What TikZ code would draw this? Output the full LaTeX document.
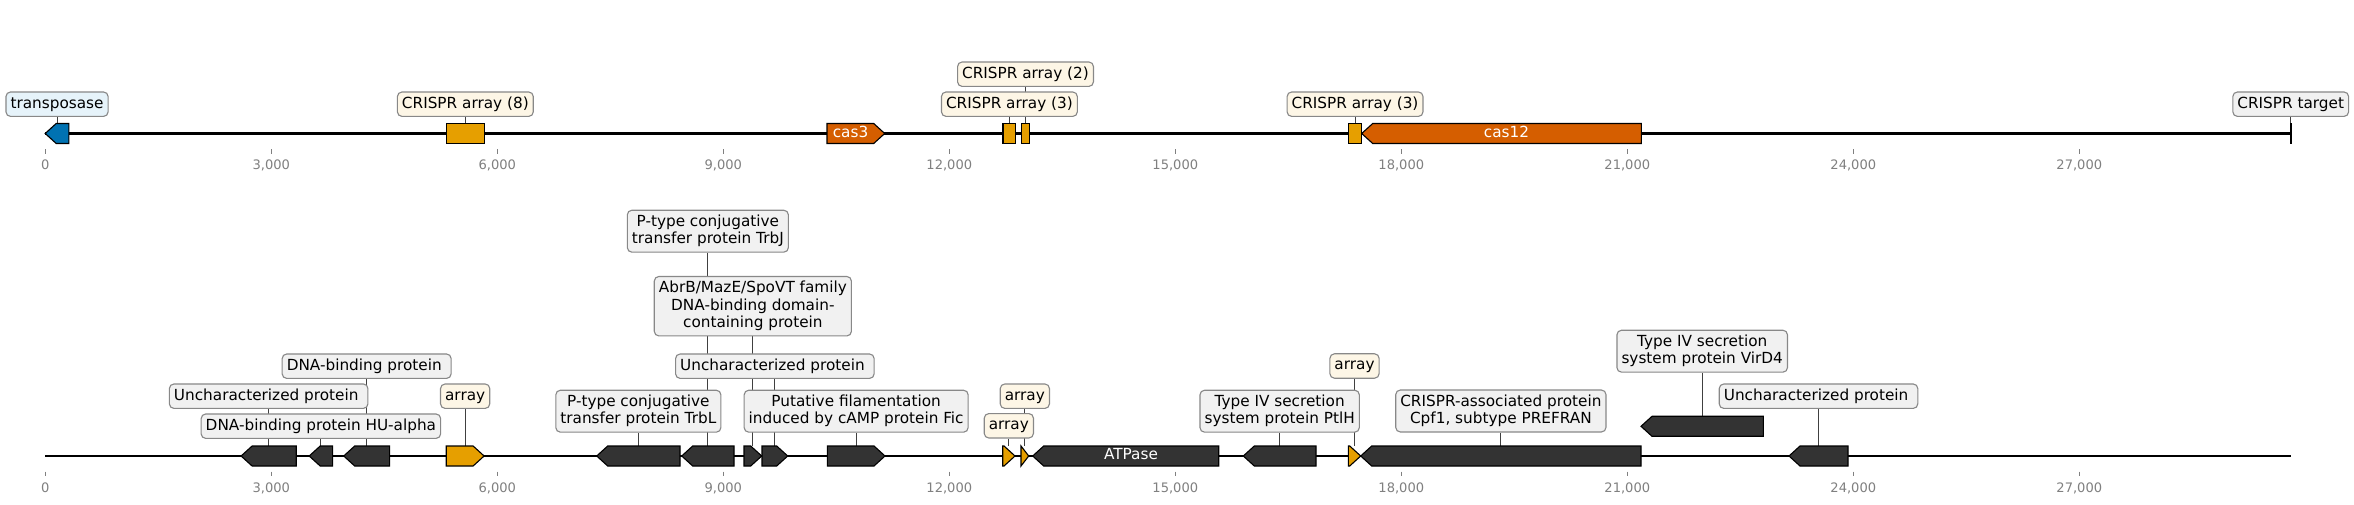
\documentclass[tikz,border=0pt]{standalone}
\usepackage{fontspec}
\setmainfont{DejaVu Sans}
\definecolor{geneDark}{HTML}{333333}
\definecolor{geneOrange}{HTML}{E69F00}
\definecolor{geneRed}{HTML}{D55E00}
\definecolor{geneBlue}{HTML}{0072B2}
\definecolor{boxGray}{HTML}{F1F1F1}
\definecolor{boxCream}{HTML}{FDF6E6}
\definecolor{boxBlue}{HTML}{E6F3FA}
\definecolor{boxEdge}{HTML}{888888}
\definecolor{tickGray}{HTML}{808080}
\definecolor{leaderGray}{HTML}{404040}
\pgfdeclarelayer{back}
\pgfdeclarelayer{bg}
\pgfsetlayers{back,bg,main}
\newcommand\lblfont{\fontsize{11}{12.6}\selectfont}
\newcommand\ticfont{\fontsize{9.4}{11}\selectfont}
\newcommand\lstr{\rule[-0.24em]{0pt}{1em}}
\tikzset{
  lbl/.style={draw=boxEdge, line width=0.8pt, rounded corners=3.3pt, inner sep=3.3pt,
              font=\lblfont, align=center, fill=boxGray},
  arrbox/.style={lbl, fill=boxCream},
  tpbox/.style={lbl, fill=boxBlue},
  genepath/.style={draw=black, line width=0.8pt, line join=miter},
  genetext/.style={text=white, font=\lblfont, inner sep=0pt},
  leaderline/.style={draw=leaderGray, line width=0.6pt},
  trackline/.style={draw=black, line width=1.5pt},
  ticmark/.style={draw=tickGray, line width=0.8pt},
  ticlab/.style={text=tickGray, font=\ticfont, anchor=base, inner sep=0pt}
}
% right-pointing gene: name, x1, x2, yc, colour
\newcommand\geneR[5]{%
  \pgfmathsetmacro\hl{min(11,#3-#2)}%
  \path[genepath, fill=#5] (#2,#4-10) -- (#3-\hl,#4-10) -- (#3,#4) -- (#3-\hl,#4+10) -- (#2,#4+10) -- cycle;
  \coordinate (#1) at ({(#2+#3)/2},#4-10);
  \coordinate (#1-c) at ({(#2+#3)/2},#4);
}
% left-pointing gene
\newcommand\geneL[5]{%
  \pgfmathsetmacro\hl{min(11,#3-#2)}%
  \path[genepath, fill=#5] (#2,#4) -- (#2+\hl,#4-10) -- (#3,#4-10) -- (#3,#4+10) -- (#2+\hl,#4+10) -- cycle;
  \coordinate (#1) at ({(#2+#3)/2},#4-10);
  \coordinate (#1-c) at ({(#2+#3)/2},#4);
}
% strandless block
\newcommand\geneB[5]{%
  \path[genepath, fill=#5] (#2,#4-10) rectangle (#3,#4+10);
  \coordinate (#1) at ({(#2+#3)/2},#4-10);
}
\begin{document}
\begin{tikzpicture}[x=0.72pt, y=-0.72pt]
\useasboundingbox (0,0) rectangle (2354,505);
\begin{pgfonlayer}{back}
  \fill[white] (0,0) rectangle (2354,505);
\end{pgfonlayer}

% ---------------- top track ----------------
\draw[trackline] (45.3,133.5) -- (2290.7,133.5);
\coordinate (tgtop) at (2290.7,123.5);
\coordinate (tgbot) at (2290.7,144);
\draw[trackline] (tgtop) -- (tgbot);

\geneL{t-tp}{45.2}{68.9}{133.5}{geneBlue}
\geneB{t-a8}{446.2}{484.5}{133.5}{geneOrange}
\geneR{t-cas3}{827}{884.7}{133.5}{geneRed}
\node[genetext] (n-cas3) at (850.5,133.5) {\lstr cas3};
\geneB{t-a3a}{1003}{1015.8}{133.5}{geneOrange}
\geneB{t-a2}{1021.4}{1029.6}{133.5}{geneOrange}
\geneB{t-a3b}{1348.4}{1361.7}{133.5}{geneOrange}
\geneL{t-cas12}{1361.7}{1641.4}{133.5}{geneRed}
\node[genetext] (n-cas12) at (1506.5,133.5) {\lstr cas12};

\node[tpbox] (l-tp) at (57.05,104.2) {\lstr transposase};
\node[arrbox] (l-a8) at (465.35,104.2) {\lstr CRISPR array (8)};
\node[arrbox] (l-a3a) at (1009.4,104.2) {\lstr CRISPR array (3)};
\node[arrbox] (l-a2) at (1025.5,74.2) {\lstr CRISPR array (2)};
\node[arrbox] (l-a3b) at (1355.05,104.2) {\lstr CRISPR array (3)};
\node[lbl] (l-tg) at (2290.7,104.2) {\lstr CRISPR target};

\foreach \xx/\tt in {45.3/0, 271.3/{3,000}, 497.3/{6,000}, 723.3/{9,000}, 949.3/{12,000},
  1175.3/{15,000}, 1401.3/{18,000}, 1627.3/{21,000}, 1853.3/{24,000}, 2079.3/{27,000}} {
  \draw[ticmark] (\xx,149.3) -- (\xx,154);
  \node[ticlab] at (\xx,170) {\tt};
  \draw[ticmark] (\xx,471.7) -- (\xx,476);
  \node[ticlab] at (\xx,492) {\tt};
}

% ---------------- bottom track ----------------
\draw[trackline] (45.3,456) -- (2291,456);

\geneL{b-g1}{241.1}{296.2}{456}{geneDark}
\geneL{b-g2}{309.2}{332.6}{456}{geneDark}
\geneL{b-g3}{343.7}{389.6}{456}{geneDark}
\geneR{b-arr1}{446.2}{484.1}{456}{geneOrange}
\geneL{b-trbl}{596.7}{680}{456}{geneDark}
\geneL{b-trbj}{681.7}{734}{456}{geneDark}
\geneR{b-abr}{744}{761.7}{456}{geneDark}
\geneR{b-unc}{762}{787.7}{456}{geneDark}
\geneR{b-fic}{827.3}{885}{456}{geneDark}
\geneR{b-arr2}{1002.7}{1015}{456}{geneOrange}
\geneR{b-arr3}{1021}{1028.7}{456}{geneOrange}
\geneL{b-atp}{1032.7}{1218.7}{456}{geneDark}
\node[genetext] (n-atp) at (1131,456) {\lstr ATPase};
\geneL{b-ptlh}{1243.3}{1316}{456}{geneDark}
\geneR{b-arr4}{1348.3}{1360.7}{456}{geneOrange}
\geneL{b-cpf1}{1360.7}{1641}{456}{geneDark}
\geneL{b-vird4}{1641}{1763.4}{426.3}{geneDark}
\geneL{b-unc2}{1789}{1848}{456}{geneDark}

\node[lbl] (l-g1) at (268.65,396.2) {\lstr Uncharacterized protein\hspace{0.318em}};
\node[lbl] (l-g2) at (320.9,426.2) {\lstr DNA-binding protein HU-alpha};
\node[lbl] (l-g3) at (366.65,366.2) {\lstr DNA-binding protein\hspace{0.318em}};
\node[arrbox] (l-arr1) at (465.15,396.2) {\lstr array};
\node[lbl] (l-trbl) at (638.35,411.2) {\lstr P-type conjugative\\transfer protein TrbL\lstr};
\node[lbl] (l-trbj) at (707.85,231.2) {\lstr P-type conjugative\\transfer protein TrbJ\lstr};
\node[lbl] (l-abr) at (752.85,306.2) {\lstr AbrB/MazE/SpoVT family\\DNA-binding domain-\\containing protein\lstr};
\node[lbl] (l-unc) at (774.85,366.2) {\lstr Uncharacterized protein\hspace{0.318em}};
\node[lbl] (l-fic) at (856.15,411.2) {\lstr Putative filamentation\\induced by cAMP protein Fic\lstr};
\node[arrbox] (l-arr2) at (1008.85,425.8) {\lstr array};
\node[arrbox] (l-arr3) at (1024.85,396.2) {\lstr array};
\node[lbl] (l-ptlh) at (1279.65,411.2) {\lstr Type IV secretion\\system protein PtlH\lstr};
\node[arrbox] (l-arr4) at (1354.5,366) {\lstr array};
\node[lbl] (l-cpf1) at (1500.85,411) {\lstr CRISPR-associated protein\\Cpf1, subtype PREFRAN\lstr};
\node[lbl] (l-vird4) at (1702.2,351.2) {\lstr Type IV secretion\\system protein VirD4\lstr};
\node[lbl] (l-unc2) at (1818.5,396.2) {\lstr Uncharacterized protein\hspace{0.318em}};

% ---------------- leader lines ----------------
\begin{pgfonlayer}{bg}
  \foreach \g in {tp,a8,a3a,a2,a3b}
    \draw[leaderline] (t-\g |- l-\g.south) -- (t-\g);
  \draw[leaderline] (tgtop |- l-tg.south) -- (tgtop);
  \foreach \g in {g1,g2,g3,arr1,trbl,trbj,abr,unc,fic,arr2,arr3,ptlh,arr4,cpf1,vird4,unc2}
    \draw[leaderline] (b-\g |- l-\g.south) -- (b-\g);
\end{pgfonlayer}
\end{tikzpicture}
\end{document}
